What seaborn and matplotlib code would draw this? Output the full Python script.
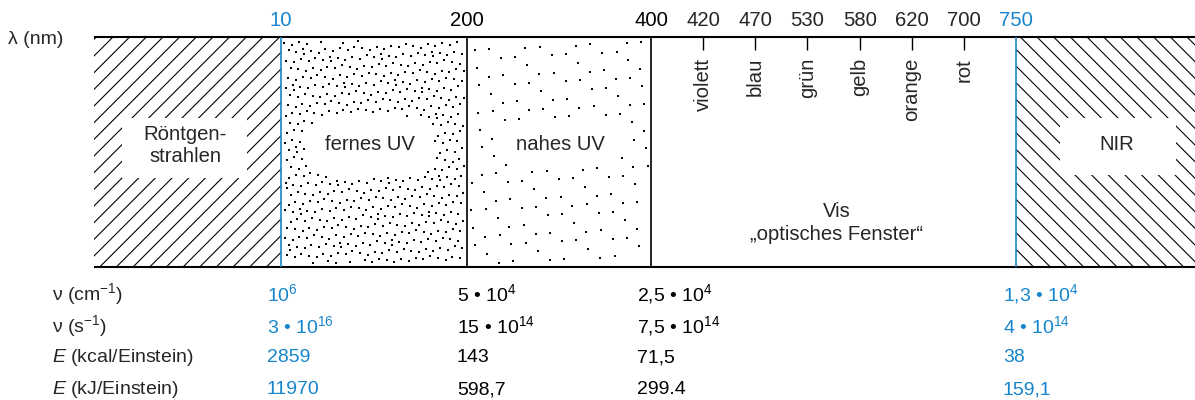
import numpy as np
import matplotlib
matplotlib.use("Agg")
import matplotlib.pyplot as plt
from matplotlib.patches import Rectangle
import pandas as pd
import seaborn as sns

# ---- spectrum data -------------------------------------------------------
boundary_nm = [10, 200, 400, 750]
boundary_is_key = [True, False, False, True]          # highlighted limits
visible_nm = [420, 470, 530, 580, 620, 700]
visible_names = ["violett", "blau", "grün", "gelb", "orange", "rot"]

region_names = ["Röntgen-\nstrahlen", "fernes UV", "nahes UV",
                "Vis\n„optisches Fenster“", "NIR"]

row_labels = [r"ν (cm$\mathregular{^{-1}}$)",
              r"ν (s$\mathregular{^{-1}}$)",
              r"$\mathit{E}$ (kcal/Einstein)",
              r"$\mathit{E}$ (kJ/Einstein)"]
wavenumber = [r"$\mathregular{10^{6}}$", r"5 • $\mathregular{10^{4}}$",
              r"2,5 • $\mathregular{10^{4}}$", r"1,3 • $\mathregular{10^{4}}$"]
frequency = [r"3 • $\mathregular{10^{16}}$", r"15 • $\mathregular{10^{14}}$",
             r"7,5 • $\mathregular{10^{14}}$", r"4 • $\mathregular{10^{14}}$"]
energy_kcal = ["2859", "143", "71,5", "38"]
energy_kj = ["11970", "598,7", "299.4", "159,1"]

# ---- style ---------------------------------------------------------------
sns.set_theme(style="white")
plt.rcParams["font.family"] = ["Liberation Sans", "DejaVu Sans"]
plt.rcParams["mathtext.fontset"] = "custom"
plt.rcParams["mathtext.rm"] = "Liberation Sans"
plt.rcParams["mathtext.it"] = "Liberation Sans:italic"
plt.rcParams["mathtext.bf"] = "Liberation Sans:bold"
plt.rcParams["hatch.linewidth"] = 0.8

BLUE = "#1685cc"
FS = 14          # table text
FS_BAND = 14.6   # scale and region labels

fig = plt.figure(figsize=(11.95, 4.0), dpi=100)
ax = fig.add_axes([0, 0, 1, 1])
ax.set_xlim(0, 1195)
ax.set_ylim(400, 0)
ax.axis("off")

# ---- layout of the band --------------------------------------------------
x_left, x_right = 94, 1195
y_top, y_bot = 37, 267
bx = [281, 467, 651, 1016]                       # x of the wavelength limits
vis_x = np.linspace(bx[2], bx[3], len(visible_nm) + 2)[1:-1]
edges = [x_left] + bx + [x_right]

# hatched regions (X-ray and NIR)
ax.add_patch(Rectangle((edges[0], y_top), edges[1] - edges[0], y_bot - y_top,
                       facecolor="white", edgecolor="black", lw=0, hatch="//"))
ax.add_patch(Rectangle((edges[4], y_top), edges[5] - edges[4], y_bot - y_top,
                       facecolor="white", edgecolor="black", lw=0, hatch="\\\\"))

# stippled UV regions: deterministic low-discrepancy dot fill
def stipple(x0, x1, n, cx, cy, a, b):
    g = 1.32471795724474602596
    k = np.arange(1, n + 1)
    u = (0.5 + k / g) % 1.0
    v = (0.5 + k / g ** 2) % 1.0
    xs = x0 + 3 + u * (x1 - x0 - 6)
    ys = y_top + 4 + v * (y_bot - y_top - 8)
    keep = (np.abs(xs - cx) / a) ** 4 + (np.abs(ys - cy) / b) ** 4 > 1
    return pd.DataFrame({"x": xs[keep], "y": ys[keep]})

far = stipple(edges[1], edges[2], 640, 370, 146, 64, 30)
near = stipple(edges[2], edges[3], 150, 560, 145, 60, 24)
for d in (far, near):
    sns.scatterplot(data=d, x="x", y="y", ax=ax, s=0.8, color="black",
                    marker="s", linewidth=0, legend=False, zorder=2)

# white plates behind the hatched-region labels
ax.add_patch(Rectangle((122, 118), 125, 60, facecolor="white", lw=0, zorder=3))
ax.add_patch(Rectangle((1060, 118), 116, 57, facecolor="white", lw=0, zorder=3))

# frame lines
ax.hlines([y_top, y_bot], x_left, x_right, color="black", lw=1.5, zorder=5)
for x, key in zip(bx, boundary_is_key):
    ax.vlines(x, y_top, y_bot, color=BLUE if key else "black", lw=1.2, zorder=5)

# wavelength scale
ax.text(8, 40, "λ (nm)", fontsize=FS, ha="left", va="center")
for x, nm, key in zip(bx, boundary_nm, boundary_is_key):
    ax.text(x, 21, str(nm), fontsize=FS_BAND, ha="center", va="center",
            color=BLUE if key else "black")
for x, nm, name in zip(vis_x, visible_nm, visible_names):
    ax.text(x, 21, str(nm), fontsize=FS_BAND, ha="center", va="center")
    ax.vlines(x, y_top, 50, color="black", lw=1.0, zorder=5)
    ax.text(x, 58, name, fontsize=FS_BAND, rotation=90, ha="center", va="top")

# region labels
ax.text(185, 146, region_names[0], fontsize=FS_BAND, ha="center", va="center",
        linespacing=1.2, zorder=6)
ax.text(370, 145, region_names[1], fontsize=FS_BAND, ha="center", va="center", zorder=6)
ax.text(560, 145, region_names[2], fontsize=FS_BAND, ha="center", va="center", zorder=6)
ax.text(837, 223, region_names[3], fontsize=FS_BAND, ha="center", va="center",
        linespacing=1.25, zorder=6)
ax.text(1117, 145, region_names[4], fontsize=FS_BAND, ha="center", va="center", zorder=6)

# conversion table below the band
col_x = [267, 457, 637, 1003]
col_colors = [BLUE, "black", "black", BLUE]
row_y = [294, 326, 358, 390]
rows = [wavenumber, frequency, energy_kcal, energy_kj]
for y, label, vals in zip(row_y, row_labels, rows):
    ax.text(52, y, label, fontsize=FS, ha="left", va="center")
    for x, c, v in zip(col_x, col_colors, vals):
        ax.text(x, y, v, fontsize=FS, ha="left", va="center", color=c)

fig.savefig("out.png", dpi=100)
